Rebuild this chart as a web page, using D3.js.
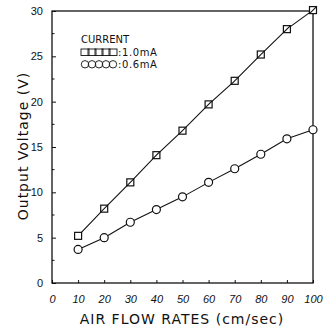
<!DOCTYPE html>
<html><head><meta charset="utf-8">
<script src="https://cdn.jsdelivr.net/npm/d3@7"></script>
<style>body{margin:0;background:#fff}svg{display:block}</style>
</head><body>
<svg id="c" width="326" height="330"></svg>
<script>
const flowRates = [10,20,30,40,50,60,70,80,90,100];
const v10mA = [5.2,8.2,11.1,14.1,16.8,19.7,22.3,25.2,28.0,30.1];
const v06mA = [3.7,5.0,6.7,8.1,9.5,11.1,12.6,14.2,15.9,16.9];
const xTicks = [0,10,20,30,40,50,60,70,80,90,100];
const yTicks = [0,5,10,15,20,25,30];
const yMinor = [2.5,7.5,12.5,17.5,22.5,27.5];
const legendLabels = [":1.0mA",":0.6mA"];

const svg = d3.select("#c");
const L=52,R=313,T=11,B=283;
const x = d3.scaleLinear().domain([0,100]).range([L,R]);
const y = d3.scaleLinear().domain([0,30]).range([B,T]);
const ink="#111";
const sans="Liberation Sans, Arial, sans-serif";
const wide="DejaVu Sans, Verdana, sans-serif";

// frame
svg.append("rect").attr("x",L).attr("y",T).attr("width",R-L).attr("height",B-T)
  .attr("fill","none").attr("stroke",ink).attr("stroke-width",1.3);

// y axis
const ya = svg.append("g").attr("transform",`translate(${L},0)`)
  .call(d3.axisLeft(y).tickValues(yTicks).tickSize(-4).tickPadding(9));
ya.select(".domain").remove();
ya.selectAll("line").attr("stroke",ink);
ya.selectAll("text").attr("font-family",sans).attr("font-size",11).attr("fill",ink);
svg.append("g").selectAll("line").data(yMinor).join("line")
  .attr("x1",L).attr("x2",L+2.5).attr("y1",d=>y(d)).attr("y2",d=>y(d)).attr("stroke",ink);

// x axis
const xa = svg.append("g").attr("transform",`translate(0,${B})`)
  .call(d3.axisBottom(x).tickValues(xTicks).tickSize(-3).tickPadding(12));
xa.select(".domain").remove();
xa.selectAll("line").attr("stroke",ink);
xa.selectAll("text").attr("font-family",sans).attr("font-size",11)
  .attr("font-style","italic").attr("fill",ink);

// axis titles
svg.append("text").attr("x",182).attr("y",324).attr("text-anchor","middle")
  .attr("font-family",wide).attr("font-size",14).attr("letter-spacing",1)
  .attr("fill",ink).text("AIR FLOW RATES (cm/sec)");
svg.append("text").attr("transform",`translate(28,146) rotate(-90)`).attr("text-anchor","middle")
  .attr("font-family",wide).attr("font-size",14).attr("letter-spacing",1)
  .attr("fill",ink).text("Output Voltage (V)");

const line = d3.line().x(d=>x(d[0])).y(d=>y(d[1]));
const s1 = flowRates.map((f,i)=>[f,v10mA[i]]);
const s2 = flowRates.map((f,i)=>[f,v06mA[i]]);
svg.append("path").attr("d",line(s1)).attr("fill","none").attr("stroke",ink).attr("stroke-width",1.1);
svg.append("path").attr("d",line(s2)).attr("fill","none").attr("stroke",ink).attr("stroke-width",1.1);

const sq=7;
svg.append("g").selectAll("rect").data(s1).join("rect")
  .attr("x",d=>x(d[0])-sq/2).attr("y",d=>y(d[1])-sq/2).attr("width",sq).attr("height",sq)
  .attr("fill","#fff").attr("stroke",ink).attr("stroke-width",1.2);
svg.append("g").selectAll("line").data(s1.slice(1)).join("line")
  .attr("x1",d=>x(d[0])-sq/2).attr("y1",d=>y(d[1])+sq/2).attr("x2",d=>x(d[0])+sq/2).attr("y2",d=>y(d[1])-sq/2)
  .attr("stroke",ink).attr("stroke-width",1.1);
svg.append("g").selectAll("circle").data(s2).join("circle")
  .attr("cx",d=>x(d[0])).attr("cy",d=>y(d[1])).attr("r",4)
  .attr("fill","#fff").attr("stroke",ink).attr("stroke-width",1.2);

// legend
const lg = svg.append("g").attr("font-family",wide).attr("fill",ink);
lg.append("text").attr("x",81).attr("y",43).attr("font-size",10).text("CURRENT");
const lx0=81, lys=[56,68];
for(let k=0;k<5;k++){
  lg.append("rect").attr("x",lx0+k*7).attr("y",lys[0]-7).attr("width",8).attr("height",6.5)
    .attr("fill","none").attr("stroke",ink).attr("stroke-width",0.9);
  lg.append("circle").attr("cx",lx0+4+k*7).attr("cy",lys[1]-3.7).attr("r",3.7)
    .attr("fill","none").attr("stroke",ink).attr("stroke-width",0.9);
}
legendLabels.forEach((t,i)=>lg.append("text").attr("x",lx0+37).attr("y",lys[i])
  .attr("font-size",10).attr("letter-spacing",0.6).text(t));
</script>
</body></html>
